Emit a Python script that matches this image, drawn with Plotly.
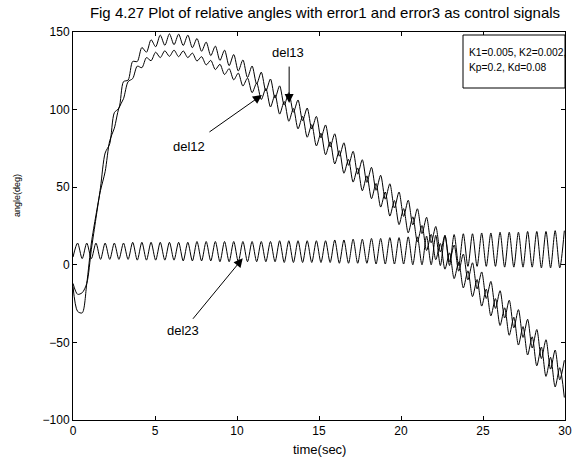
import plotly.graph_objects as go

# time samples (s)
t = [0.00, 0.28, 0.56, 0.84, 1.12, 1.40, 1.68, 1.96, 2.24, 2.52,
     2.80, 3.08, 3.36, 3.64, 3.92, 4.20, 4.48, 4.76, 5.04, 5.32,
     5.60, 5.88, 6.16, 6.44, 6.72, 7.00, 7.28, 7.56, 7.84, 8.12,
     8.40, 8.68, 8.96, 9.24, 9.52, 9.80, 10.08, 10.36, 10.64, 10.92,
     11.20, 11.48, 11.76, 12.04, 12.32, 12.60, 12.88, 13.16, 13.44, 13.72,
     14.00, 14.28, 14.56, 14.84, 15.12, 15.40, 15.68, 15.96, 16.24, 16.52,
     16.80, 17.08, 17.36, 17.64, 17.92, 18.20, 18.48, 18.76, 19.04, 19.32,
     19.60, 19.88, 20.16, 20.44, 20.72, 21.00, 21.28, 21.56, 21.84, 22.12,
     22.40, 22.68, 22.96, 23.24, 23.52, 23.80, 24.08, 24.36, 24.64, 24.92,
     25.20, 25.48, 25.76, 26.04, 26.32, 26.60, 26.88, 27.16, 27.44, 27.72,
     28.00, 28.28, 28.56, 28.84, 29.12, 29.40, 29.68, 29.96]

del13 = [-12, -19, -18, -12, 10, 30, 50, 72, 78, 98,
         101, 118, 119, 131, 131, 140, 137, 145, 140.5, 148,
         141.4, 148.8, 141.8, 148.6, 141.3, 148, 139.9, 145.8, 137.6, 143.5,
         134.8, 140.9, 131.7, 138.3, 128.3, 135.5, 124.9, 132, 120.7, 128.1,
         116.5, 124.1, 112, 119.7, 107.4, 115.3, 102.9, 110.9, 98.3, 106.2,
         92.9, 101, 87.5, 95.6, 81.8, 90.1, 76, 84.4, 70, 78.6,
         64.1, 73.1, 58.4, 67.7, 53.1, 62.8, 48, 57.7, 42.3, 52.2,
         36.6, 46.9, 31.2, 41.6, 25.7, 36.1, 20.1, 30.6, 14.2, 24.7,
         8.3, 18.8, 2.1, 12.7, -4.1, 6.9, -9.7, 1.3, -15.5, -4.6,
         -21.7, -10.7, -28.1, -16.7, -34.3, -22.8, -40.6, -28.9, -46.8, -35.1,
         -53.6, -41.7, -60.4, -48.3, -67.2, -54.9, -74.1, -61.5]

del12 = [-14, -30, -31, -12, 14, 32, 48, 60, 80, 88,
         101, 107, 118, 120, 128, 127, 133.5, 131.5, 137, 133.5,
         137.9, 134.3, 138.3, 134.1, 137.8, 133.5, 136.4, 131.3, 134.1, 128.8,
         131.7, 125.8, 129.2, 122.6, 126.4, 119.2, 123.5, 115.2, 120.3, 110.9,
         117.1, 106.5, 113.6, 101.7, 109.5, 97.1, 105.2, 92.5, 100.7, 87.6,
         95.6, 82.2, 90.3, 76.6, 84.8, 70.9, 79.2, 65, 73.5, 59,
         67.9, 53.3, 62.4, 47.7, 57.3, 42.6, 52.4, 37.2, 46.9, 31.4,
         41.4, 25.9, 36.2, 20.6, 30.9, 14.9, 25.3, 9.2, 19.6, 3.3,
         13.7, -2.8, 7.7, -8.9, 1.7, -14.9, -3.9, -20.5, -9.5, -26.6,
         -15.7, -32.9, -21.8, -39.1, -27.7, -45.4, -33.8, -51.7, -39.8, -58.1,
         -46.4, -65.1, -53, -71.9, -59.6, -78.7, -66.3, -85.5]

del23 = [5, 14, 4, 14, 4, 14, 3.5, 14, 3.5, 14,
         3.5, 14, 3.5, 14.5, 3, 14.5, 3, 14.5, 3, 14.5,
         3, 14.5, 3, 14.5, 2.5, 14.5, 2.5, 15, 2.5, 15,
         2.5, 15, 2, 15, 2, 15, 2, 15, 2, 15,
         2, 15, 2, 15, 2, 15.5, 1.5, 15.5, 1.5, 15.5,
         1.5, 15.5, 1.5, 15.5, 1.5, 15.5, 1.5, 16, 1, 16,
         1, 16.5, 1, 16.5, 1, 17, 0.5, 17, 0.5, 17.5,
         0.5, 17.5, 0.5, 18, 0, 18, 0, 18.5, 0, 19,
         -0.5, 19, -0.5, 19.5, -0.5, 20, -1, 20, -1, 20.5,
         -1, 20.5, -1, 21, -1.5, 21, -1.5, 21, -1.5, 21.5,
         -1.5, 21.5, -2, 21.5, -2, 22, -2, 22]

x_ticks = [0, 5, 10, 15, 20, 25, 30]
y_ticks = [-100, -50, 0, 50, 100, 150]

FONT = "Liberation Sans, Arial, sans-serif"

fig = go.Figure()
for name, ys in [("del12", del12), ("del13", del13), ("del23", del23)]:
    fig.add_trace(go.Scatter(x=t, y=ys, mode="lines", name=name,
                             line=dict(color="black", width=1, shape="spline", smoothing=0.8),
                             showlegend=False, hoverinfo="skip"))

axis_common = dict(showline=True, linecolor="black", linewidth=1, mirror="allticks",
                   ticks="inside", ticklen=4, tickcolor="black", tickwidth=1,
                   showgrid=False, zeroline=False, automargin=False,
                   tickfont=dict(family=FONT, size=12, color="black"))

fig.update_layout(
    width=574, height=459,
    margin=dict(l=73, r=9, t=32, b=39, autoexpand=False),
    paper_bgcolor="white", plot_bgcolor="white",
    font=dict(family=FONT, size=12, color="black"),
    title=dict(text="Fig 4.27 Plot of relative angles with error1 and error3 as control signals",
               x=(325 - 73) / 492.0, xref="paper", xanchor="center", y=1 - 13 / 459, yanchor="middle",
               font=dict(family=FONT, size=15, color="black")),
    xaxis=dict(range=[0, 30], tickvals=x_ticks, **axis_common),
    yaxis=dict(range=[-100, 150], tickvals=y_ticks, **axis_common),
)

# paper-coordinate helpers for the parameter box (plot area 73..565 x 32..420 px)
def px_x(p):
    return (p - 73) / 492.0

def px_y(p):
    return (420 - p) / 388.0

fig.add_shape(type="rect", xref="paper", yref="paper",
              x0=px_x(463), x1=px_x(565), y0=px_y(88), y1=px_y(35),
              line=dict(color="black", width=1), fillcolor="white", layer="above")

annotations = [
    # axis titles
    dict(text="time(sec)", xref="paper", yref="paper", x=0.5, y=px_y(449),
         xanchor="center", yanchor="middle", showarrow=False, font=dict(size=13)),
    dict(text="angle(deg)", xref="paper", yref="paper", x=px_x(17), y=px_y(196),
         xanchor="center", yanchor="middle", showarrow=False, textangle=-90,
         font=dict(size=9)),
    # parameter box text
    dict(text="K1=0.005, K2=0.002,", xref="paper", yref="paper", x=px_x(467), y=px_y(52),
         xanchor="left", yanchor="middle", showarrow=False, font=dict(size=10.3)),
    dict(text="Kp=0.2, Kd=0.08", xref="paper", yref="paper", x=px_x(467), y=px_y(67),
         xanchor="left", yanchor="middle", showarrow=False, font=dict(size=10.3)),
    # labels
    dict(text="del13", x=13.1, y=136.5, showarrow=False, font=dict(size=13)),
    dict(text="del12", x=7.05, y=76.5, showarrow=False, font=dict(size=13)),
    dict(text="del23", x=6.69, y=-42.3, showarrow=False, font=dict(size=13)),
    # arrows
    dict(text="", x=13.18, y=104.2, ax=0, ay=-38, showarrow=True, arrowhead=2,
         arrowsize=1.8, arrowwidth=1, arrowcolor="black", standoff=0),
    dict(text="", x=11.52, y=109.4, ax=-54, ay=38, showarrow=True, arrowhead=2,
         arrowsize=1.8, arrowwidth=1, arrowcolor="black", standoff=0),
    dict(text="", x=10.35, y=4.2, ax=-51, ay=62, showarrow=True, arrowhead=2,
         arrowsize=1.8, arrowwidth=1, arrowcolor="black", standoff=0),
]
fig.update_layout(annotations=annotations)

fig.write_html("out.html")
